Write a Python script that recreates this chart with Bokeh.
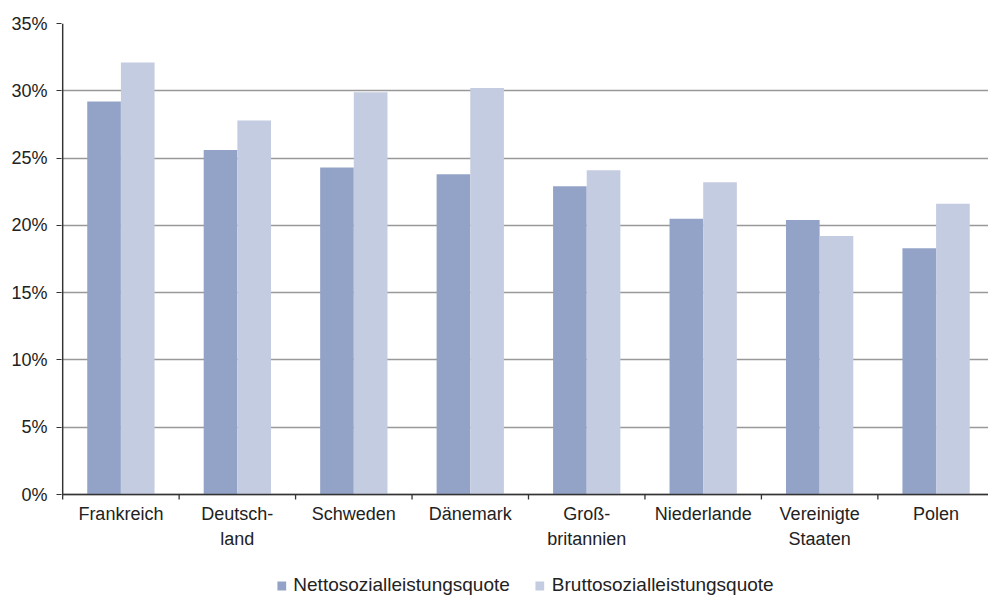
from bokeh.plotting import figure
from bokeh.models import (Range1d, FixedTicker, ColumnDataSource, Legend, LegendItem,
                          PrintfTickFormatter)
from bokeh.core.properties import value
from bokeh.embed import file_html
from bokeh.resources import INLINE

categories = ["Frankreich", "Deutsch-\nland", "Schweden", "Dänemark", "Groß-\nbritannien",
              "Niederlande", "Vereinigte\nStaaten", "Polen"]
netto = [29.2, 25.6, 24.3, 23.8, 22.9, 20.5, 20.4, 18.3]
brutto = [32.1, 27.8, 29.9, 30.2, 24.1, 23.2, 19.2, 21.6]
y_ticks = [0, 5, 10, 15, 20, 25, 30, 35]
series_names = ["Nettosozialleistungsquote", "Bruttosozialleistungsquote"]

FONT = "Liberation Sans"
C_NETTO = "#93a3c8"
C_BRUTTO = "#c4cce1"
AXIS_C = "#333333"
BW = 0.289
Y_MAX = 35
PX_PER_UNIT = 471 / Y_MAX
Y_BOTTOM = -104 / PX_PER_UNIT
TICK_LEN = 5 / PX_PER_UNIT
X_END = 7.95

n = len(categories)
centers = [i + 0.5 for i in range(n)]
src = ColumnDataSource(dict(
    xn=[c - BW / 2 for c in centers],
    xb=[c + BW / 2 for c in centers],
    netto=netto, brutto=brutto,
))
lab_src = ColumnDataSource(dict(x=centers, y=[0] * n, text=categories))
bounds = list(range(n + 1))
tick_src = ColumnDataSource(dict(x=bounds, y0=[0] * len(bounds), y1=[-TICK_LEN] * len(bounds)))

p = figure(frame_width=927, frame_height=575, output_backend="svg", toolbar_location=None,
           x_range=Range1d(-0.01, X_END), y_range=Range1d(Y_BOTTOM, Y_MAX),
           x_axis_location=None,
           min_border_left=61, min_border_right=0, min_border_top=23, min_border_bottom=0)
p.outline_line_color = None
p.xgrid.grid_line_color = None
p.ygrid.grid_line_color = "#999999"
p.ygrid.grid_line_width = 1.3
p.ygrid.ticker = FixedTicker(ticks=y_ticks)

rn = p.vbar(x="xn", top="netto", width=BW, source=src, fill_color=C_NETTO, line_color=None)
rb = p.vbar(x="xb", top="brutto", width=BW, source=src, fill_color=C_BRUTTO, line_color=None)

# axis lines (stop at 0% / 35%)
p.segment(x0=[0], y0=[0], x1=[0], y1=[Y_MAX], line_color=AXIS_C, line_width=1.5)
p.segment(x0=[0], y0=[0], x1=[X_END], y1=[0], line_color=AXIS_C, line_width=1.5)
# category boundary ticks
p.segment(x0="x", y0="y0", x1="x", y1="y1", source=tick_src, line_color=AXIS_C, line_width=1.3)
# category labels
p.text(x="x", y="y", text="text", source=lab_src, text_align="center", text_baseline="top",
       y_offset=9, text_font=value(FONT), text_font_size=value("18px"),
       text_color="#222222", text_line_height=1.25)

# y axis
ya = p.yaxis[0]
ya.ticker = FixedTicker(ticks=y_ticks)
ya.formatter = PrintfTickFormatter(format="%d%%")
ya.axis_line_color = None
ya.major_tick_line_color = AXIS_C
ya.major_tick_out = 5
ya.major_tick_in = 0
ya.minor_tick_line_color = None
ya.major_label_standoff = 9
ya.major_label_text_font = FONT
ya.major_label_text_font_size = "18px"
ya.major_label_text_color = "#222222"

lg = Legend(items=[LegendItem(label=series_names[0], renderers=[rn]),
                   LegendItem(label=series_names[1], renderers=[rb])],
            location="bottom_center", orientation="horizontal", padding=0, margin=2, spacing=24,
            border_line_color=None, background_fill_alpha=0,
            glyph_width=11, glyph_height=11, label_standoff=7, label_height=20,
            label_text_font=FONT, label_text_font_size="19px",
            label_text_color="#222222")
p.add_layout(lg, "center")

open("out.html", "w").write(file_html(p, INLINE))
